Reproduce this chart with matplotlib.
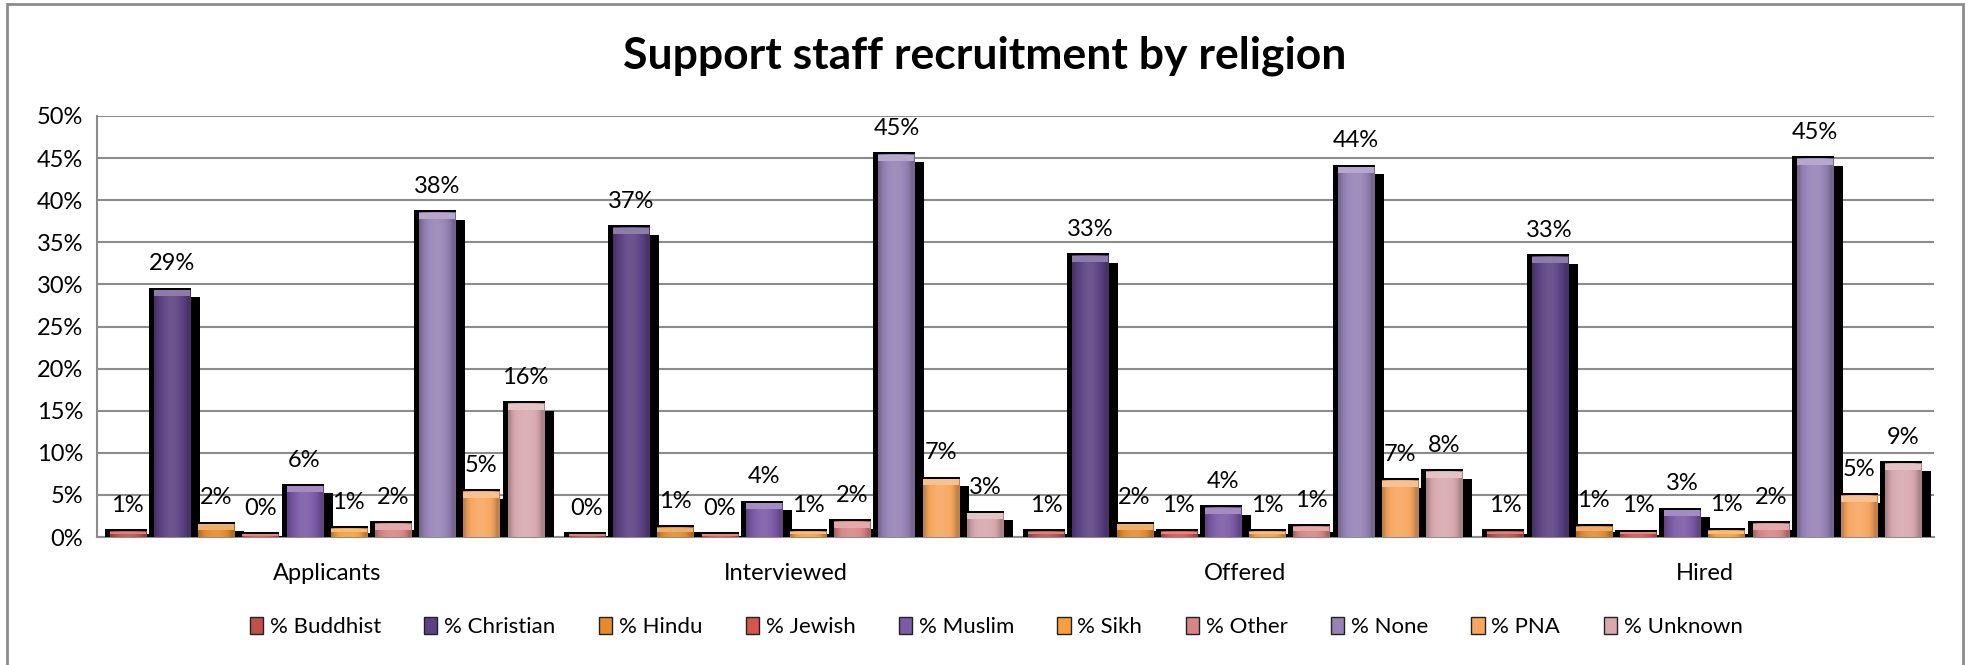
import numpy as np
import matplotlib
matplotlib.use("Agg")
import matplotlib.pyplot as plt
from matplotlib.patches import Rectangle, Patch
from matplotlib.colors import to_rgb

plt.rcParams['font.family'] = ['Lato', 'DejaVu Sans']

# data (percent)
stages = ["Applicants", "Interviewed", "Offered", "Hired"]
religions = ["% Buddhist", "% Christian", "% Hindu", "% Jewish", "% Muslim",
             "% Sikh", "% Other", "% None", "% PNA", "% Unknown"]
buddhist = [0.6, 0.3, 0.6, 0.6]
christian = [29.3, 36.7, 33.4, 33.3]
hindu = [1.5, 1.1, 1.5, 1.2]
jewish = [0.3, 0.3, 0.6, 0.55]
muslim = [6.0, 4.0, 3.5, 3.2]
sikh = [1.0, 0.6, 0.6, 0.75]
other = [1.6, 1.8, 1.2, 1.6]
none = [38.5, 45.4, 43.9, 44.9]
pna = [5.4, 6.85, 6.7, 4.9]
unknown = [15.8, 2.8, 7.75, 8.7]
series = [buddhist, christian, hindu, jewish, muslim, sikh, other, none, pna, unknown]
labels = [[f"{round(v)}%" for v in s] for s in series]
colors = ["#C0504D", "#5C4283", "#E38B2D", "#D9534F", "#7B5AA6",
          "#F5A03C", "#D88585", "#9683B6", "#F7A660", "#D8A9AE"]
yticks = list(range(0, 55, 5))

W, H = 1968, 665
fig = plt.figure(figsize=(W / 100, H / 100), dpi=100)
ax = fig.add_axes([97 / W, 1 - 537 / H, (1934 - 97) / W, (537 - 116) / H])

# pixel -> data conversions
px_x = 1.0 / 459.0
px_y = 50.0 / 421.0
slot = 44.2 * px_x
face_w = 36 * px_x


def shade(c, f):
    r = np.array(to_rgb(c))
    if f >= 1:
        return tuple(r + (1 - r) * (f - 1))
    return tuple(r * f)


def face_image(c):
    t = np.linspace(0, 1, 40)
    prof = 0.78 + 0.32 * np.sin(np.pi * np.clip(t * 1.15 - 0.05, 0, 1)) ** 0.6
    img = np.array([shade(c, p) for p in prof])
    return np.clip(img[None, :, :], 0, 1)


z = 3
for gi in range(len(stages)):
    for si, s in enumerate(series):
        v = s[gi]
        cx = gi + (si - 4.5) * slot
        x0 = cx - face_w / 2
        x1 = cx + face_w / 2
        # black extrusion / shadow
        ax.add_patch(Rectangle((x0 - 5 * px_x, 0), face_w + 6 * px_x, v + 2.5 * px_y,
                               facecolor="black", edgecolor="none", zorder=z))
        sh_top = max(v - 7 * px_y, v * 0.5)
        ax.add_patch(Rectangle((x1, 0), 10 * px_x, sh_top,
                               facecolor="black", edgecolor="none", zorder=z))
        # face with gradient
        ax.imshow(face_image(colors[si]), extent=[x0, x1, 0, v], aspect="auto",
                  zorder=z + 0.1, interpolation="bilinear")
        cap = min(6 * px_y, v * 0.45)
        ax.add_patch(Rectangle((x0, v - cap), face_w, cap,
                               facecolor=shade(colors[si], 1.3), edgecolor="none",
                               zorder=z + 0.2))
        ax.annotate(labels[si][gi], (cx, v), xytext=(0, 19), textcoords="offset points",
                    ha="center", va="center", fontsize=17, color="black", zorder=z + 1)
        z += 0.5

ax.set_xlim(-0.5, len(stages) - 0.5)
ax.set_ylim(0, 50)
ax.set_yticks(yticks)
ax.set_yticklabels([f"{t}%" for t in yticks], fontsize=17)
ax.set_xticks(range(len(stages)))
ax.set_xticklabels(stages, fontsize=17)
ax.tick_params(axis="y", length=0, pad=10)
ax.tick_params(axis="x", length=0, pad=19)
ax.yaxis.grid(True, color="#8C8C8C", linewidth=1.5, zorder=0)
ax.set_axisbelow(True)
for side in ["top", "right"]:
    ax.spines[side].set_visible(False)
for side in ["left", "bottom"]:
    ax.spines[side].set_color("#8C8C8C")
    ax.spines[side].set_linewidth(1.5)

fig.text(985 / W, 1 - 56 / H, "Support staff recruitment by religion",
         ha="center", va="center", fontsize=32, fontweight="bold")

handles = [Patch(facecolor=c, edgecolor="#222222", linewidth=1.0) for c in colors]
fig.legend(handles, religions, loc="center", bbox_to_anchor=(996 / W, 1 - 627 / H),
           ncol=10, frameon=False, fontsize=16, handlelength=0.6, handleheight=0.8,
           handletextpad=0.3, columnspacing=1.95)

# outer chart border
fig.add_artist(Rectangle((7 / W, -0.05), (1963 - 7) / W, 1.05 - 4 / H,
                         transform=fig.transFigure, facecolor="none",
                         edgecolor="#8C8C8C", linewidth=2))

fig.savefig("out.png", dpi=100, facecolor="white")
